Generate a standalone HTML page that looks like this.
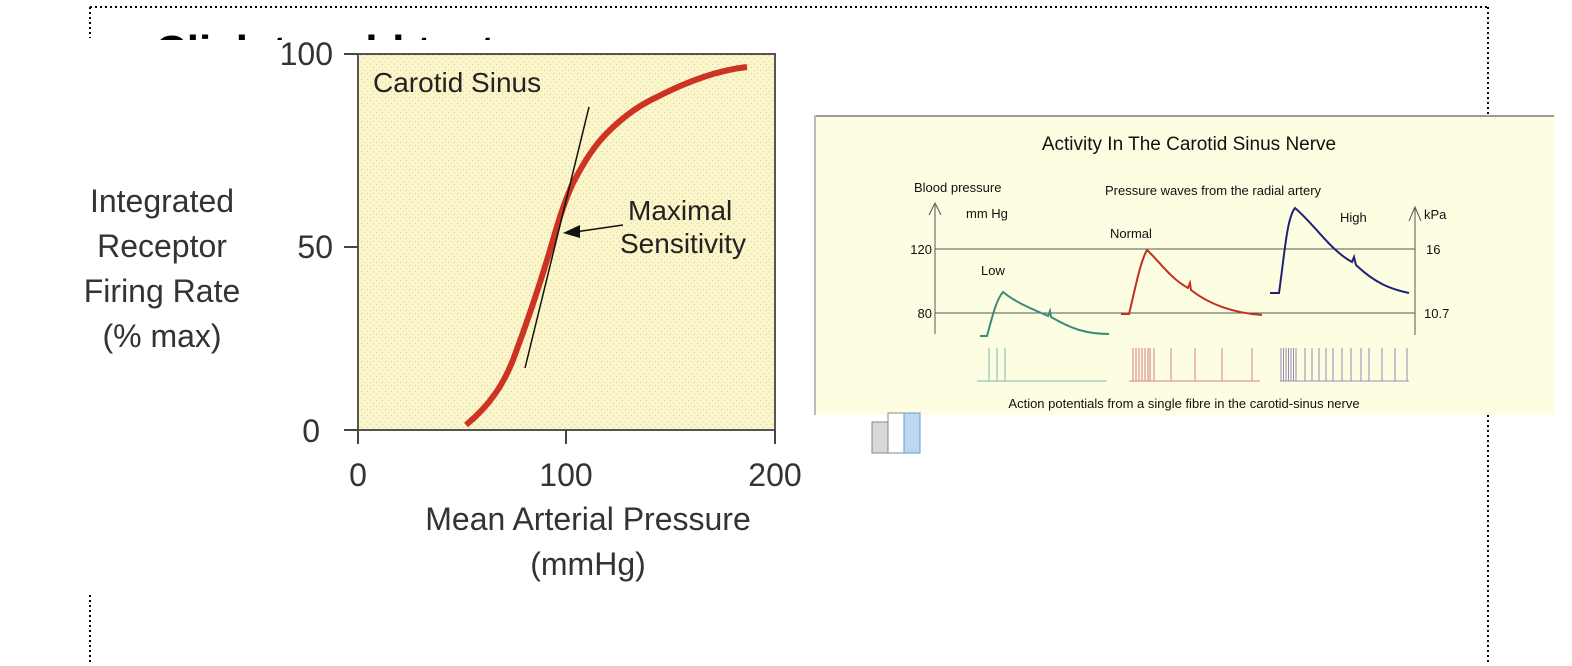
<!DOCTYPE html>
<html><head><meta charset="utf-8"><style>
html,body{margin:0;padding:0;background:#fff;}
svg{display:block;font-family:"Liberation Sans",sans-serif;}
</style></head><body>
<svg width="1572" height="666" viewBox="0 0 1572 666" xmlns="http://www.w3.org/2000/svg">
<defs>
<pattern id="dots" width="6" height="6" patternUnits="userSpaceOnUse">
<rect width="6" height="6" fill="#fbf6c8"/>
<circle cx="1.5" cy="1.5" r="0.6" fill="#d8d0b8"/>
<circle cx="4.5" cy="4.5" r="0.6" fill="#e6c8c0"/>
</pattern>
</defs>
<g stroke="#000" stroke-width="2" stroke-dasharray="2,3" fill="none">
<line x1="90" y1="7" x2="1488" y2="7"/>
<line x1="90" y1="7" x2="90" y2="38"/>
<line x1="90" y1="595" x2="90" y2="662"/>
<line x1="1488" y1="7" x2="1488" y2="115"/>
<line x1="1488" y1="415" x2="1488" y2="662"/>
</g>
<text x="155" y="66" font-size="44" font-weight="bold" fill="#000">Click to add text</text>
<rect x="150" y="40" width="660" height="560" fill="#fff"/>
<rect x="358" y="54" width="417" height="376" fill="url(#dots)" stroke="#555" stroke-width="2"/>
<g stroke="#444" stroke-width="2">
<line x1="344" y1="54" x2="358" y2="54"/><line x1="344" y1="247" x2="358" y2="247"/><line x1="344" y1="430" x2="358" y2="430"/>
<line x1="358" y1="430" x2="358" y2="444"/><line x1="566" y1="430" x2="566" y2="444"/><line x1="775" y1="430" x2="775" y2="444"/>
</g>
<path d="M466,425 C490,405 503,385 513,360 C528,320 540,285 553,240 C560,215 566,198 573,183 C585,160 595,145 607,133 C625,115 640,105 657,97 C690,80 720,70 747,67" fill="none" stroke="#cc3322" stroke-width="6"/>
<line x1="525" y1="368" x2="589" y2="107" stroke="#111" stroke-width="1.5"/>
<line x1="623" y1="225" x2="575" y2="232" stroke="#111" stroke-width="1.5"/>
<polygon points="563,233 580,225 580,238" fill="#111"/>
<g fill="#222" font-size="28">
<text x="373" y="92">Carotid Sinus</text>
<text x="628" y="220">Maximal</text>
<text x="620" y="253">Sensitivity</text>
</g>
<g fill="#333" font-size="32" text-anchor="end">
<text x="333" y="65">100</text><text x="333" y="258">50</text><text x="320" y="442">0</text>
</g>
<g fill="#333" font-size="32" text-anchor="middle">
<text x="358" y="486">0</text><text x="566" y="486">100</text><text x="775" y="486">200</text>
<text x="588" y="530">Mean Arterial Pressure</text>
<text x="588" y="575">(mmHg)</text>
<text x="162" y="212">Integrated</text>
<text x="162" y="257">Receptor</text>
<text x="162" y="302">Firing Rate</text>
<text x="162" y="347">(% max)</text>
</g>
<rect x="814" y="115" width="740" height="300" fill="#fdfde2"/>
<line x1="814" y1="116" x2="1554" y2="116" stroke="#999" stroke-width="2"/>
<line x1="815" y1="115" x2="815" y2="415" stroke="#bbb" stroke-width="2"/>
<g stroke="#555" stroke-width="1" fill="none">
<line x1="935" y1="205" x2="935" y2="334"/>
<polyline points="929,215 935,203 941,215"/>
<line x1="1415" y1="208" x2="1415" y2="335"/>
<polyline points="1409,221 1415,207 1421,221"/>
<line x1="935" y1="249" x2="1415" y2="249"/>
<line x1="935" y1="313" x2="1415" y2="313"/>
</g>
<path d="M980,336 L987,336 C992,318 996,300 1003,292 C1015,302 1030,308 1048,316 L1050,311 L1051,317 C1070,328 1085,334 1109,334" fill="none" stroke="#3a8c7c" stroke-width="2"/>
<path d="M1121,314 L1129,314 C1135,290 1140,262 1147,250 C1160,262 1170,278 1188,288 L1190,283 L1191,290 C1210,305 1235,313 1262,315" fill="none" stroke="#c03020" stroke-width="2"/>
<path d="M1270,293 L1279,293 C1285,250 1287,218 1295,208 C1315,225 1330,250 1352,262 L1354,257 L1356,265 C1375,283 1390,289 1409,293" fill="none" stroke="#22207a" stroke-width="2"/>
<g stroke="#7ab8a8" stroke-width="1"><line x1="977" y1="381" x2="1107" y2="381"/><line x1="989" y1="348" x2="989" y2="381"/><line x1="997" y1="348" x2="997" y2="381"/><line x1="1005" y1="348" x2="1005" y2="381"/></g>
<g stroke="#d88080" stroke-width="1"><line x1="1129" y1="381" x2="1260" y2="381"/>
<line x1="1133" y1="348" x2="1133" y2="381"/><line x1="1136" y1="348" x2="1136" y2="381"/><line x1="1139" y1="348" x2="1139" y2="381"/><line x1="1142" y1="348" x2="1142" y2="381"/><line x1="1145" y1="348" x2="1145" y2="381"/><line x1="1148" y1="348" x2="1148" y2="381"/><line x1="1150" y1="348" x2="1150" y2="381"/><line x1="1154" y1="348" x2="1154" y2="381"/><line x1="1171" y1="348" x2="1171" y2="381"/><line x1="1195" y1="348" x2="1195" y2="381"/><line x1="1222" y1="348" x2="1222" y2="381"/><line x1="1252" y1="348" x2="1252" y2="381"/></g>
<g stroke="#7a70b0" stroke-width="0.8"><line x1="1280" y1="381" x2="1409" y2="381"/>
<line x1="1281" y1="348" x2="1281" y2="381"/><line x1="1283.5" y1="348" x2="1283.5" y2="381"/><line x1="1286" y1="348" x2="1286" y2="381"/><line x1="1288.5" y1="348" x2="1288.5" y2="381"/><line x1="1291" y1="348" x2="1291" y2="381"/><line x1="1293.5" y1="348" x2="1293.5" y2="381"/><line x1="1296" y1="348" x2="1296" y2="381"/>
<line x1="1305" y1="348" x2="1305" y2="381"/><line x1="1312" y1="348" x2="1312" y2="381"/><line x1="1319" y1="348" x2="1319" y2="381"/><line x1="1326" y1="348" x2="1326" y2="381"/><line x1="1333" y1="348" x2="1333" y2="381"/><line x1="1342" y1="348" x2="1342" y2="381"/><line x1="1351" y1="348" x2="1351" y2="381"/><line x1="1361" y1="348" x2="1361" y2="381"/><line x1="1369" y1="348" x2="1369" y2="381"/><line x1="1382" y1="348" x2="1382" y2="381"/><line x1="1395" y1="348" x2="1395" y2="381"/><line x1="1407" y1="348" x2="1407" y2="381"/></g>
<g fill="#111" font-size="13">
<text x="1189" y="150" font-size="19" text-anchor="middle">Activity In The Carotid Sinus Nerve</text>
<text x="914" y="192">Blood pressure</text>
<text x="966" y="218">mm Hg</text>
<text x="1105" y="195">Pressure waves from the radial artery</text>
<text x="1110" y="238">Normal</text>
<text x="981" y="275">Low</text>
<text x="1340" y="222">High</text>
<text x="1424" y="219">kPa</text>
<text x="932" y="254" text-anchor="end">120</text>
<text x="932" y="318" text-anchor="end">80</text>
<text x="1426" y="254">16</text>
<text x="1424" y="318">10.7</text>
<text x="1184" y="408" text-anchor="middle">Action potentials from a single fibre in the carotid-sinus nerve</text>
</g>
<rect x="872" y="422" width="16" height="31" fill="#d8d8d8" stroke="#888"/>
<rect x="888" y="413" width="16" height="40" fill="#fff" stroke="#888"/>
<rect x="904" y="413" width="16" height="40" fill="#bcd8f0" stroke="#6a9ad0"/>
</svg>
</body></html>
